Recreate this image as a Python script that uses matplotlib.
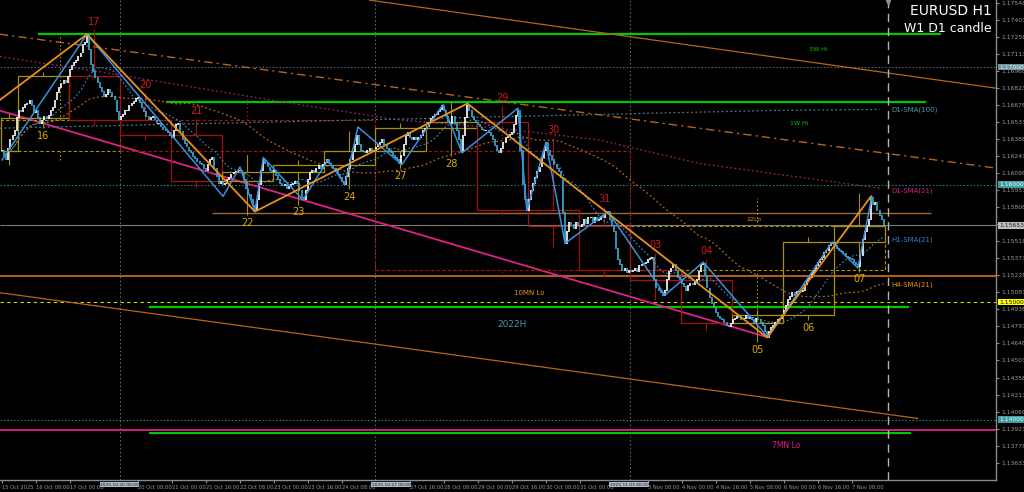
import numpy as np
import pandas as pd
import matplotlib
matplotlib.use("Agg")
import matplotlib.pyplot as plt
import matplotlib.transforms as mtransforms
from matplotlib.patches import Rectangle

# EURUSD H1 closes, 15 Oct 2025 16:00 .. 7 Nov 2025 23:00 (one value per bar)
close = [
    1.1629, 1.1625, 1.1621, 1.1631, 1.1638, 1.1642, 1.1646, 1.1657, 1.1663, 1.1662,
    1.1666, 1.1668, 1.1669, 1.1672, 1.1667, 1.1661, 1.1663, 1.1657, 1.1652, 1.1655,
    1.1658, 1.1656, 1.1659, 1.1663, 1.1666, 1.1672, 1.1678, 1.1683, 1.1686, 1.1689,
    1.1687, 1.1692, 1.1698, 1.1701, 1.1704, 1.1706, 1.1709, 1.1712, 1.1719, 1.1721,
    1.1728,
    1.1715, 1.1702, 1.1696, 1.1691, 1.1687, 1.1683, 1.1679, 1.1675, 1.1677, 1.1681,
    1.1678, 1.1675, 1.1672, 1.1662, 1.1655, 1.1658, 1.1660, 1.1663, 1.1663, 1.1667,
    1.1669, 1.1671, 1.1673, 1.1674, 1.1670, 1.1666, 1.1662, 1.1658, 1.1655, 1.1657,
    1.1658, 1.1655, 1.1652, 1.1652, 1.1649, 1.1647, 1.1646, 1.1644, 1.1642, 1.1640,
    1.1646, 1.1651, 1.1652, 1.1645, 1.1638, 1.1635, 1.1632, 1.1629, 1.1627, 1.1624,
    1.1622, 1.1620, 1.1618, 1.1617, 1.1614, 1.1612, 1.1617, 1.1621, 1.1623, 1.1614,
    1.1607, 1.1601, 1.1603, 1.1600, 1.1601, 1.1604, 1.1606, 1.1609, 1.1610, 1.1611,
    1.1612, 1.1612, 1.1610, 1.1604, 1.1597, 1.1592, 1.1587, 1.1582, 1.1578, 1.1587,
    1.1600, 1.1612, 1.1621, 1.1618, 1.1615, 1.1612, 1.1611, 1.1612, 1.1608, 1.1604,
    1.1601, 1.1599, 1.1600, 1.1597, 1.1598, 1.1600, 1.1601, 1.1603, 1.1601, 1.1595,
    1.1589, 1.1587, 1.1595, 1.1604, 1.1610, 1.1612, 1.1611, 1.1614, 1.1616, 1.1614,
    1.1617, 1.1619, 1.1621, 1.1618, 1.1616, 1.1614, 1.1612, 1.1609, 1.1606, 1.1603,
    1.1600, 1.1607, 1.1614, 1.1621, 1.1628, 1.1634, 1.1642, 1.1634, 1.1629, 1.1628,
    1.1627, 1.1629, 1.1631, 1.1628, 1.1629, 1.1632, 1.1634, 1.1636, 1.1638, 1.1634,
    1.1631, 1.1629, 1.1627, 1.1625, 1.1623, 1.1621, 1.1618, 1.1625, 1.1634, 1.1642,
    1.1644, 1.1640, 1.1638, 1.1640, 1.1638, 1.1640, 1.1642, 1.1646, 1.1648, 1.1649,
    1.1653, 1.1656, 1.1658, 1.1660, 1.1662, 1.1664, 1.1667, 1.1663, 1.1658, 1.1653,
    1.1652, 1.1658, 1.1652, 1.1646, 1.1638, 1.1628, 1.1642, 1.1657, 1.1667, 1.1663,
    1.1658, 1.1655, 1.1653, 1.1651, 1.1649, 1.1647, 1.1646, 1.1646, 1.1644, 1.1642,
    1.1638, 1.1633, 1.1629, 1.1627, 1.1631, 1.1636, 1.1640, 1.1641, 1.1643, 1.1644,
    1.1651, 1.1659, 1.1663, 1.1629, 1.1600, 1.1587, 1.1578, 1.1587, 1.1595, 1.1601,
    1.1606, 1.1611, 1.1615, 1.1623, 1.1629, 1.1636, 1.1629, 1.1625, 1.1621, 1.1617,
    1.1614, 1.1611, 1.1606, 1.1576, 1.1550, 1.1560, 1.1568, 1.1566, 1.1563, 1.1568,
    1.1565, 1.1564, 1.1566, 1.1570, 1.1567, 1.1572, 1.1572, 1.1568, 1.1572, 1.1569,
    1.1570, 1.1573, 1.1572, 1.1575, 1.1577, 1.1570, 1.1565, 1.1560, 1.1546, 1.1536,
    1.1532, 1.1527, 1.1529, 1.1525, 1.1527, 1.1526, 1.1527, 1.1529, 1.1526, 1.1531,
    1.1532, 1.1533, 1.1534, 1.1536, 1.1537, 1.1538, 1.1519, 1.1512, 1.1510, 1.1508,
    1.1506, 1.1510, 1.1519, 1.1526, 1.1529, 1.1532, 1.1527, 1.1521, 1.1519, 1.1516,
    1.1513, 1.1510, 1.1514, 1.1516, 1.1515, 1.1517, 1.1519, 1.1526, 1.1532, 1.1533,
    1.1523, 1.1512, 1.1504, 1.1499, 1.1495, 1.1491, 1.1488, 1.1486, 1.1485, 1.1483,
    1.1480, 1.1479, 1.1482, 1.1485, 1.1486, 1.1488, 1.1487, 1.1485, 1.1486, 1.1489,
    1.1486, 1.1487, 1.1485, 1.1483, 1.1486, 1.1485, 1.1483, 1.1480, 1.1475, 1.1470,
    1.1475, 1.1478, 1.1480, 1.1483, 1.1485, 1.1486, 1.1489, 1.1493, 1.1497, 1.1502,
    1.1505, 1.1508, 1.1506, 1.1509, 1.1510, 1.1509, 1.1510, 1.1515, 1.1519, 1.1521,
    1.1525, 1.1527, 1.1531, 1.1534, 1.1536, 1.1538, 1.1542, 1.1544, 1.1548, 1.1550,
    1.1551, 1.1548, 1.1546, 1.1544, 1.1543, 1.1541, 1.1539, 1.1538, 1.1537, 1.1536,
    1.1534, 1.1532, 1.1530, 1.1540, 1.1553, 1.1560, 1.1565, 1.1570, 1.1589, 1.1583,
    1.1585, 1.1578, 1.1574, 1.1570, 1.1565,
]

# first bar of each trading day, and the day numbers printed on the D1 candles
day_start = [0, 8, 32, 56, 80, 104, 128, 152, 176, 200, 224, 248, 272, 296, 320, 344, 368, 392]
day_name = ["", "16", "17", "20", "21", "22", "23", "24", "27", "28", "29", "30", "31",
            "03", "04", "05", "06", "07"]
week_start = [0, 56, 176, 296]
week_tag = ["", "2025.10.20 00:00", "2025.10.27 00:00", "2025.11.03 00:00"]
week_tag_bar = [0, 55.3, 183.1, 295.1]

# zigzags (bar, price)
zz_h4_bar = [-1, 40, 119, 219, 360, 409]
zz_h4_px = [1.1672, 1.1728, 1.1577, 1.1669, 1.1470, 1.1590]
zz_h1_bar = [0, 40, 104, 112, 119, 123, 141.6, 153.4, 161.4, 167.5, 188.2, 207.5, 216.5,
             242.8, 247, 256, 265, 285.2, 312, 330, 360.5, 390.6, 402.8, 409.4]
zz_h1_px = [1.1621, 1.1728, 1.1590, 1.1615, 1.1577, 1.1623, 1.1587, 1.1621, 1.1600, 1.1649,
            1.1617, 1.1668, 1.1627, 1.1665, 1.1578, 1.1636, 1.1550, 1.1577, 1.1506, 1.1534,
            1.1470, 1.1551, 1.1529, 1.1590]

# daily moving averages
d1_sma21_bar = [-1, 46, 93, 140, 187, 234, 281, 328, 413]
d1_sma21_px = [1.1709, 1.1696, 1.1682, 1.1668, 1.1655, 1.1648, 1.1638, 1.1618, 1.1597]
d1_sma100_bar = [-1, 120, 240, 360, 413]
d1_sma100_px = [1.1648, 1.1653, 1.1658, 1.1663, 1.1664]

# trend lines (bar pair, price pair)
tl_upper = ([173, 468], [1.1757, 1.1682])
tl_dashdot = ([-1, 468], [1.1728, 1.1614])
tl_magenta = ([-1, 360.5], [1.1663, 1.1470])
tl_lower = ([-1, 431], [1.1508, 1.1401])

# time axis labels (those hidden under the week-start boxes are left out)
time_ticks = [0, 16, 32, 64, 80, 96, 112, 128, 144, 160, 192, 208, 224, 240,
              256, 272, 304, 320, 336, 352, 368, 384, 400]
time_labels = ["15 Oct 2025", "16 Oct 08:00", "17 Oct 00:00", "20 Oct 08:00",
               "21 Oct 00:00", "21 Oct 16:00", "22 Oct 08:00", "23 Oct 00:00", "23 Oct 16:00",
               "24 Oct 08:00", "27 Oct 16:00", "28 Oct 08:00", "29 Oct 00:00",
               "29 Oct 16:00", "30 Oct 08:00", "31 Oct 00:00", "3 Nov 08:00",
               "4 Nov 00:00", "4 Nov 16:00", "5 Nov 08:00", "6 Nov 00:00", "6 Nov 16:00",
               "7 Nov 08:00"]
price_ticks = [1.17548, 1.17403, 1.17258, 1.17113, 1.16968, 1.16823, 1.16678, 1.16533,
               1.16388, 1.16243, 1.16098, 1.15953, 1.15808, 1.15663, 1.15518, 1.15373,
               1.15228, 1.15083, 1.14938, 1.14793, 1.14648, 1.14503, 1.14358, 1.14213,
               1.14068, 1.13923, 1.13778, 1.13633]

BG = "black"
GREEN = "#00c800"
ORANGE = "#e8901c"
DARKOR = "#b8651c"
MAGENTA = "#e0208a"
BLUE = "#3a8fe0"
OLIVE = "#a89000"
RED = "#a81010"

c = np.array(close)
n = len(c)
x = np.arange(n)
o = np.r_[c[0], c[:-1]]

fig = plt.figure(figsize=(10.24, 4.92), dpi=100, facecolor=BG)
ax = fig.add_axes([0, 12 / 492, 996 / 1024, 480 / 492], facecolor=BG)
ax.set_xlim(-0.94, 467.8)
ax.set_ylim(1.13486, 1.17571)
full = (-0.94, 467.8)

# horizontal levels
ax.hlines(1.1728, 17, 442, color=GREEN, lw=1.6, zorder=1)
ax.hlines(1.1670, 77, 435, color=GREEN, lw=1.6, zorder=1)
ax.hlines(1.1496, 69, 427, color=GREEN, lw=1.6, zorder=1)
ax.hlines(1.1389, 69, 428, color=GREEN, lw=1.6, zorder=1)
ax.hlines(1.1576, 99, 437, color="#9a6a3a", lw=1.0, zorder=1)
ax.hlines(1.1522, *full, color="#c06a18", lw=1.3, zorder=1)
ax.hlines(1.1391, *full, color=MAGENTA, lw=1.3, zorder=1)
ax.hlines(1.15653, *full, color="#7c7c7c", lw=0.8, zorder=1)
ax.hlines(1.1700, *full, color="#5a7080", lw=0.7, ls=(0, (1.5, 2)), zorder=1)
ax.hlines(1.1600, *full, color="#2e8b8b", lw=0.7, ls=(0, (1.5, 2)), zorder=1)
ax.hlines(1.1400, *full, color="#2e8b8b", lw=0.7, ls=(0, (1.5, 2)), zorder=1)
ax.hlines(1.1500, *full, color="#d8d800", lw=0.8, ls=(0, (3, 3)), zorder=1)

# trend lines
ax.plot(*tl_upper, color=DARKOR, lw=0.9, zorder=1)
ax.plot(*tl_dashdot, color=DARKOR, lw=1.0, ls=(0, (6, 3, 1.5, 3)), zorder=1)
ax.plot(*tl_magenta, color=MAGENTA, lw=1.3, zorder=2)
ax.plot(*tl_lower, color=DARKOR, lw=0.9, zorder=1)

# week separators and current bar marker
for ws in week_start[1:]:
    ax.axvline(ws - 0.5, color="#707070", lw=0.7, ls=(0, (1.5, 2.5)), zorder=1)
ax.axvline(417, color="#b4b4b4", lw=1.0, ls=(0, (6, 4)), zorder=1)

# W1 candles (dashed)
ends = week_start[1:] + [n]
for ws, we in zip(week_start, ends):
    wo = c[ws - 1] if ws > 0 else c[0]
    wc = c[we - 1]
    seg = c[max(ws - 1, 0):we]
    col = OLIVE if wc >= wo else RED
    ax.add_patch(Rectangle((ws - 0.5, min(wo, wc)), we - ws, abs(wc - wo), fill=False,
                           ec=col, lw=0.8, ls=(0, (3, 2)), zorder=2))
    mid = (ws + we - 1) / 2
    ax.vlines(mid, max(wo, wc), seg.max(), color=col, lw=0.8, ls=(0, (1.5, 2)), zorder=2)
    ax.vlines(mid, seg.min(), min(wo, wc), color=col, lw=0.8, ls=(0, (1.5, 2)), zorder=2)

# D1 candles with day numbers
dends = day_start[1:] + [n]
for ds, de, name in zip(day_start, dends, day_name):
    do = c[ds - 1] if ds > 0 else c[0]
    dc = c[de - 1]
    seg = c[max(ds - 1, 0):de]
    up = dc >= do
    col = OLIVE if up else RED
    ax.add_patch(Rectangle((ds - 0.5, min(do, dc)), de - ds, abs(dc - do), fill=False,
                           ec=col, lw=0.9, zorder=2))
    mid = (ds + de - 1) / 2
    ax.vlines(mid, max(do, dc), seg.max() + 0.0004, color=col, lw=0.8, zorder=2)
    ax.vlines(mid, seg.min() - 0.0004, min(do, dc), color=col, lw=0.8, zorder=2)
    if name:
        if up:
            ax.annotate(name, (mid, seg.min() - 0.0004), xytext=(0, -2), textcoords="offset points",
                        ha="center", va="top", color="#d8b000", fontsize=7, zorder=8)
        else:
            ax.annotate(name, (mid, seg.max() + 0.0004), xytext=(0, 2), textcoords="offset points",
                        ha="center", va="bottom", color="#d81818", fontsize=7, zorder=8)

# moving averages
s = pd.Series(c)
ax.plot(x, s.rolling(21, min_periods=1).mean(), color=BLUE, lw=0.8, ls=(0, (1.5, 2)), zorder=3)
ax.plot(x, s.rolling(84, min_periods=1).mean(), color=DARKOR, lw=0.9, ls=(0, (1.5, 2)), zorder=3)
ax.plot(d1_sma21_bar, d1_sma21_px, color="#a0206a", lw=0.9, ls=(0, (1.5, 2)), zorder=3)
ax.plot(d1_sma100_bar, d1_sma100_px, color="#4a7a8a", lw=0.9, ls=(0, (1.5, 2)), zorder=3)

# H1 candles
upb = c >= o
ax.vlines(x[upb], o[upb] - 0.00004, c[upb] + 0.00004, color="white", lw=1.2, zorder=4)
ax.vlines(x[~upb], c[~upb] - 0.00004, o[~upb] + 0.00004, color="#35b0d8", lw=1.2, zorder=4)

# zigzags
ax.plot(zz_h1_bar, zz_h1_px, color=BLUE, lw=1.1, zorder=5)
ax.plot(zz_h4_bar, zz_h4_px, color=ORANGE, lw=1.3, zorder=5)

# level captions
ax.text(384, 1.1715, "3W Hi", color=GREEN, fontsize=4.5, ha="center", va="center", zorder=8)
ax.text(375, 1.1652, "1W Hi", color=GREEN, fontsize=4.5, ha="center", va="center", zorder=8)
ax.text(354, 1.1570, "22Lo", color=ORANGE, fontsize=4.5, ha="center", va="center", zorder=8)
ax.text(248, 1.1508, "10MN Lo", color=ORANGE, fontsize=5, ha="center", va="center", zorder=8)
ax.text(240, 1.1481, "2022H", color="#4a9a9a", fontsize=6.5, ha="center", va="center", zorder=8)
ax.text(369, 1.1378, "7MN Lo", color=MAGENTA, fontsize=5.5, ha="center", va="center", zorder=8)
ax.text(418.5, 1.1664, "D1-SMA(100)", color="#4a9aaa", fontsize=5, va="center", zorder=8)
ax.text(418.5, 1.1595, "D1-SMA(21)", color="#d0207a", fontsize=5, va="center", zorder=8)
ax.text(418.5, 1.1553, "H1-SMA(21)", color="#2f80d8", fontsize=5, va="center", zorder=8)
ax.text(418.5, 1.1515, "H4-SMA(21)", color=ORANGE, fontsize=5, va="center", zorder=8)

ax.text(0.996, 0.992, "EURUSD H1", transform=ax.transAxes, color="white", fontsize=10,
        ha="right", va="top", zorder=9)
ax.text(0.996, 0.955, "W1 D1 candle", transform=ax.transAxes, color="white", fontsize=9,
        ha="right", va="top", zorder=9)
ax.plot([417], [1.1755], marker="v", color="#909090", ms=3, zorder=9, clip_on=False)

# axes styling
for side in ["top", "left"]:
    ax.spines[side].set_visible(False)
for side in ["right", "bottom"]:
    ax.spines[side].set_color("#8a8a8a")
    ax.spines[side].set_linewidth(1.0)
ax.yaxis.tick_right()
ax.set_yticks(price_ticks)
ax.set_yticklabels([f"{p:.5f}" for p in price_ticks])
ax.tick_params(axis="y", colors="#8a8a8a", labelsize=4.3, length=2, pad=1.5, labelcolor="#9a9a9a")
ax.set_xticks(time_ticks)
ax.set_xticklabels(time_labels, ha="left")
ax.tick_params(axis="x", colors="#8a8a8a", labelsize=3.7, length=2, pad=1.5, labelcolor="#9a9a9a")

# highlighted price labels
ytr = mtransforms.blended_transform_factory(ax.transAxes, ax.transData)
for val, fc, tc in [(1.17000, "#6e949c", "#e0eef0"), (1.16000, "#3e9ea2", "#e8ffff"),
                    (1.15653, "#bdbdbd", "#202020"), (1.15000, "#ffff00", "#000000"),
                    (1.14000, "#3e9ea2", "#e8ffff")]:
    ax.text(1.003, val, f"{val:.5f}", transform=ytr, fontsize=4.3, color=tc, va="center",
            ha="left", clip_on=False, zorder=10,
            bbox=dict(boxstyle="square,pad=0.15", fc=fc, ec="none"))

xtr = mtransforms.blended_transform_factory(ax.transData, ax.transAxes)
for tb, tag in zip(week_tag_bar[1:], week_tag[1:]):
    ax.text(tb, -0.006, tag, transform=xtr, fontsize=3.2, color="#1a1a2a", ha="center",
            va="top", clip_on=False, zorder=10,
            bbox=dict(boxstyle="square,pad=0.12", fc="#aab8c8", ec="none"))

fig.savefig("out.png", dpi=100, facecolor=BG)
